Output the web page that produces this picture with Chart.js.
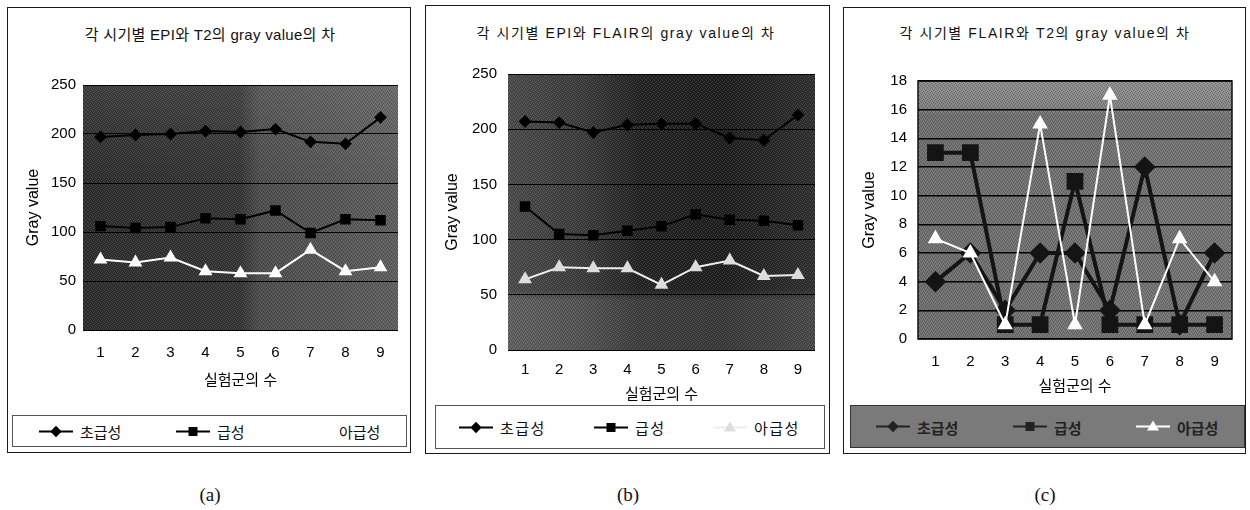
<!DOCTYPE html>
<html lang="ko">
<head>
<meta charset="utf-8">
<title>각 시기별 gray value의 차</title>
<script src="https://cdn.jsdelivr.net/npm/chart.js"></script>
<style>
  html, body { margin: 0; padding: 0; background: #fff; }
  body { width: 1250px; height: 510px; position: relative; overflow: hidden;
         font-family: 'Liberation Sans', 'Noto Sans CJK KR', sans-serif; color: #111; }
  .frame { position: absolute; border: 1px solid #1a1a1a; box-sizing: border-box; }
  .title { position: absolute; white-space: nowrap; transform: translate(-50%, -50%); font-size: 14px; }
  canvas { position: absolute; }
  .legend { position: absolute; box-sizing: border-box; border: 1px solid #555; background: #fff; }
  .item { position: absolute; top: 50%; transform: translateY(-50%); display: flex; align-items: center;
          font-size: 15px; white-space: nowrap; }
  .ln { position: relative; width: 34px; height: 2px; background: #000; margin-right: 7px; }
  .mk { position: absolute; left: 50%; top: 50%; }
  .diamond { width: 8px; height: 8px; background: #000; transform: translate(-50%, -50%) rotate(45deg); }
  .square { width: 9px; height: 9px; background: #000; transform: translate(-50%, -50%); }
  .tri { width: 0; height: 0; border-left: 6px solid transparent; border-right: 6px solid transparent;
         border-bottom: 10px solid #fff; transform: translate(-50%, -60%); }
  .cap { position: absolute; font-family: 'Liberation Serif', 'DejaVu Serif', serif; font-size: 19px;
         transform: translate(-50%, -50%); }
</style>
</head>
<body>

<!-- (a) -->
<div class="frame" style="left:7px; top:7px; width:404px; height:446px;"></div>
<div class="title" style="left:210px; top:33px; font-size:15px; letter-spacing:0.3px;">각 시기별 EPI와 T2의 gray value의 차</div>
<canvas id="chartA"></canvas>
<div class="legend" style="left:12px; top:415px; width:395px; height:32px;">
  <div class="item" style="left:26px;"><span class="ln"><span class="mk diamond"></span></span>초급성</div>
  <div class="item" style="left:163px;"><span class="ln"><span class="mk square"></span></span>급성</div>
  <div class="item" style="left:285px;"><span class="ln" style="background:#fff;"><span class="mk tri"></span></span>아급성</div>
</div>
<div class="cap" style="left:210px; top:495px;">(a)</div>

<!-- (b) -->
<div class="frame" style="left:425px; top:5px; width:405px; height:449px;"></div>
<div class="title" style="left:626px; top:32px; letter-spacing:1.6px;">각 시기별 EPI와 FLAIR의 gray value의 차</div>
<canvas id="chartB"></canvas>
<div class="legend" style="left:435px; top:405px; width:390px; height:44px;">
  <div class="item" style="left:23px; letter-spacing:1.5px;"><span class="ln"><span class="mk diamond"></span></span>초급성</div>
  <div class="item" style="left:158px; letter-spacing:1.5px;"><span class="ln"><span class="mk square"></span></span>급성</div>
  <div class="item" style="left:277px; letter-spacing:1.5px;"><span class="ln" style="background:#eee;"><span class="mk tri" style="border-bottom-color:#ddd;"></span></span>아급성</div>
</div>
<div class="cap" style="left:628px; top:495px;">(b)</div>

<!-- (c) -->
<div class="frame" style="left:843px; top:7px; width:403px; height:447px;"></div>
<div class="title" style="left:1045px; top:32px; letter-spacing:1.6px;">각 시기별 FLAIR와 T2의 gray value의 차</div>
<canvas id="chartC"></canvas>
<div class="legend" style="left:850px; top:405px; width:395px; height:43px; background:#7a7a7a; border-color:#333;">
  <div class="item" style="left:25px; color:#222; font-weight:bold;"><span class="ln" style="background:#222;"><span class="mk diamond" style="background:#222;"></span></span>초급성</div>
  <div class="item" style="left:162px; color:#222; font-weight:bold;"><span class="ln" style="background:#222;"><span class="mk square" style="background:#222;"></span></span>급성</div>
  <div class="item" style="left:285px; color:#222; font-weight:bold;"><span class="ln" style="background:#fff;"><span class="mk tri"></span></span>아급성</div>
</div>
<div class="cap" style="left:1045px; top:495px;">(c)</div>

<script>
// categories and tick labels
const categories = ['1', '2', '3', '4', '5', '6', '7', '8', '9'];
const seriesNames = ['초급성', '급성', '아급성'];
const ticksA = [0, 50, 100, 150, 200, 250];
const ticksB = [0, 50, 100, 150, 200, 250];
const ticksC = [0, 2, 4, 6, 8, 10, 12, 14, 16, 18];

// (a) EPI vs T2
const epiT2Hyper = [197, 199, 200, 203, 202, 205, 192, 190, 217];
const epiT2Acute = [106, 104, 105, 114, 113, 122, 99, 113, 112];
const epiT2Sub = [72, 69, 74, 60, 58, 58, 82, 60, 64];

// (b) EPI vs FLAIR
const epiFlairHyper = [207, 206, 197, 204, 205, 205, 192, 190, 213];
const epiFlairAcute = [130, 105, 104, 108, 112, 123, 118, 117, 113];
const epiFlairSub = [64, 75, 74, 74, 59, 75, 81, 67, 68];

// (c) FLAIR vs T2
const flairT2Hyper = [4, 6, 2, 6, 6, 2, 12, 1, 6];
const flairT2Acute = [13, 13, 1, 1, 11, 1, 1, 1, 1];
const flairT2Sub = [7, 6, 1, 15, 1, 17, 1, 7, 4];

const fontFamily = "'Liberation Sans', 'Noto Sans CJK KR', sans-serif";

// small halftone-ish dither tile for the plot backgrounds
function makeDither() {
  const c = document.createElement('canvas');
  c.width = c.height = 4;
  const x = c.getContext('2d');
  x.fillStyle = 'rgba(255,255,255,0.16)';
  [[0, 0], [2, 1], [1, 2], [3, 3]].forEach(([i, j]) => x.fillRect(i, j, 1, 1));
  x.fillStyle = 'rgba(0,0,0,0.22)';
  [[1, 0], [3, 1], [0, 3], [2, 2]].forEach(([i, j]) => x.fillRect(i, j, 1, 1));
  return c;
}
const ditherTile = makeDither();

const plotBg = {
  id: 'plotBg',
  beforeDraw(chart, args, opts) {
    const { ctx, chartArea: a } = chart;
    const w = a.right - a.left, h = a.bottom - a.top;
    ctx.save();
    const gh = ctx.createLinearGradient(a.left, 0, a.right, 0);
    opts.h.forEach(([s, c]) => gh.addColorStop(s, c));
    ctx.fillStyle = gh;
    ctx.fillRect(a.left, a.top, w, h);
    if (opts.v) {
      const gv = ctx.createLinearGradient(0, a.top, 0, a.bottom);
      opts.v.forEach(([s, c]) => gv.addColorStop(s, c));
      ctx.fillStyle = gv;
      ctx.fillRect(a.left, a.top, w, h);
    }
    ctx.fillStyle = ctx.createPattern(ditherTile, 'repeat');
    ctx.fillRect(a.left, a.top, w, h);
    if (opts.frame) {
      ctx.strokeStyle = opts.frame;
      ctx.lineWidth = 1.5;
      ctx.strokeRect(a.left, a.top, w, h);
    }
    ctx.restore();
  }
};

function makeChart(id, geo, values, ticks, look) {
  const cv = document.getElementById(id);
  cv.width = geo.cw;
  cv.height = geo.ch;
  cv.style.left = geo.cx + 'px';
  cv.style.top = geo.cy + 'px';

  const tickFont = { family: fontFamily, size: 15 };
  const datasets = values.map((data, i) => ({
    label: seriesNames[i],
    data,
    borderColor: look.colors[i],
    backgroundColor: look.fills[i],
    pointBackgroundColor: look.fills[i],
    pointBorderColor: look.fills[i],
    borderWidth: look.widths[i],
    pointStyle: ['rectRot', 'rect', 'triangle'][i],
    pointRadius: look.radii[i],
    tension: 0,
    order: [2, 1, 0][i]
  }));

  return new Chart(cv, {
    type: 'line',
    data: { labels: categories, datasets },
    options: {
      responsive: false,
      animation: false,
      events: [],
      layout: { padding: { top: geo.area.t - geo.cy, right: geo.cx + geo.cw - geo.area.r, left: 0, bottom: 0 } },
      plugins: {
        legend: { display: false },
        tooltip: { enabled: false },
        plotBg: look.bg
      },
      scales: {
        x: {
          offset: true,
          grid: { display: false, drawTicks: false },
          border: { display: false },
          ticks: { color: '#000', font: tickFont, padding: geo.xTickPad },
          title: { display: true, text: '실험군의 수', color: '#000',
                   font: { family: fontFamily, size: 15 }, padding: { top: 0, bottom: geo.xTitlePad } },
          afterFit: s => { s.height = geo.cy + geo.ch - geo.area.b; }
        },
        y: {
          min: ticks[0],
          max: ticks[ticks.length - 1],
          afterBuildTicks: s => { s.ticks = ticks.map(v => ({ value: v })); },
          grid: { color: '#000', lineWidth: look.gridWidth, drawTicks: false },
          border: { display: false },
          ticks: { color: '#000', font: tickFont, padding: geo.yTickPad },
          title: { display: true, text: 'Gray value', color: '#000',
                   font: { family: fontFamily, size: 16 }, padding: { top: geo.yTitlePad, bottom: 0 } },
          afterFit: s => { s.width = geo.area.l - geo.cx; }
        }
      }
    },
    plugins: [plotBg]
  });
}

const chartA = makeChart('chartA',
  { cx: 8, cy: 50, cw: 402, ch: 352, area: { l: 83, t: 85, r: 398, b: 330 },
    xTickPad: 14, xTitlePad: 12, yTickPad: 7, yTitlePad: 16 },
  [epiT2Hyper, epiT2Acute, epiT2Sub], ticksA,
  { colors: ['#000', '#000', '#fff'], fills: ['#000', '#000', '#fff'],
    widths: [2, 2, 2], radii: [5, 6, 6], gridWidth: 1,
    bg: { h: [[0, '#2b2b2b'], [0.5, '#333'], [0.56, '#4c4c4c'], [1, '#5e5e5e']],
          v: [[0, 'rgba(255,255,255,0.08)'], [0.4, 'rgba(255,255,255,0)'], [1, 'rgba(255,255,255,0)']] } });

const chartB = makeChart('chartB',
  { cx: 426, cy: 48, cw: 403, ch: 356, area: { l: 508, t: 74, r: 815, b: 350 },
    xTickPad: 11, xTitlePad: 0, yTickPad: 11, yTitlePad: 17 },
  [epiFlairHyper, epiFlairAcute, epiFlairSub], ticksB,
  { colors: ['#000', '#000', '#eee'], fills: ['#000', '#000', '#ddd'],
    widths: [2, 2, 2], radii: [5, 6, 6], gridWidth: 1,
    bg: { h: [[0, '#4a4a4a'], [0.25, '#3a3a3a'], [0.42, '#222'], [0.7, '#1c1c1c'], [1, '#2e2e2e']],
          v: [[0, 'rgba(255,255,255,0)'], [0.78, 'rgba(255,255,255,0)'], [0.82, 'rgba(255,255,255,0.12)'], [1, 'rgba(255,255,255,0.12)']] } });

const chartC = makeChart('chartC',
  { cx: 844, cy: 50, cw: 401, ch: 352, area: { l: 918, t: 81, r: 1233, b: 339 },
    xTickPad: 14, xTitlePad: 6, yTickPad: 11, yTitlePad: 16 },
  [flairT2Hyper, flairT2Acute, flairT2Sub], ticksC,
  { colors: ['#141414', '#141414', '#fff'], fills: ['#141414', '#141414', '#fff'],
    widths: [4, 4, 2], radii: [8, 9, 7], gridWidth: 1.5,
    bg: { h: [[0, '#6e6e6e'], [1, '#747474']],
          v: [[0, 'rgba(255,255,255,0.2)'], [0.1, 'rgba(255,255,255,0.12)'], [0.13, 'rgba(255,255,255,0)'], [1, 'rgba(255,255,255,0)']],
          frame: '#111' } });
</script>
</body>
</html>
